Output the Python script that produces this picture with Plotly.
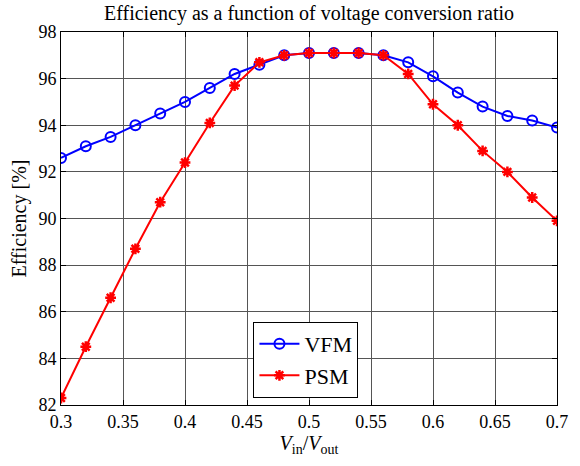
import plotly.graph_objects as go

ratio = [0.30, 0.32, 0.34, 0.36, 0.38, 0.40, 0.42, 0.44, 0.46, 0.48, 0.50,
         0.52, 0.54, 0.56, 0.58, 0.60, 0.62, 0.64, 0.66, 0.68, 0.70]
vfm = [92.6, 93.1, 93.5, 94.0, 94.5, 95.0, 95.6, 96.2, 96.6, 97.0, 97.1,
       97.1, 97.1, 97.0, 96.7, 96.1, 95.4, 94.8, 94.4, 94.2, 93.9]
psm = [82.3, 84.5, 86.6, 88.7, 90.7, 92.4, 94.1, 95.7, 96.7, 97.0, 97.1,
       97.1, 97.1, 97.0, 96.2, 94.9, 94.0, 92.9, 92.0, 90.9, 89.9]
x_ticks = [0.3, 0.35, 0.4, 0.45, 0.5, 0.55, 0.6, 0.65, 0.7]
x_tick_labels = ["0.3", "0.35", "0.4", "0.45", "0.5", "0.55", "0.6", "0.65", "0.7"]
y_ticks = [82, 84, 86, 88, 90, 92, 94, 96, 98]

FONT = "Liberation Serif"

fig = go.Figure()
fig.add_trace(go.Scatter(
    x=ratio, y=vfm, name="VFM", mode="lines+markers",
    line=dict(color="#0000ff", width=2),
    marker=dict(symbol="circle-open", size=10, color="#0000ff",
                line=dict(color="#0000ff", width=2)),
))
fig.add_trace(go.Scatter(
    x=ratio, y=psm, name="PSM", mode="lines+markers",
    line=dict(color="#ff0000", width=2),
    marker=dict(symbol="asterisk-open", size=9, color="#ff0000",
                line=dict(color="#ff0000", width=2.5)),
))

axis_common = dict(
    showline=True, linecolor="black", linewidth=1, mirror="ticks",
    ticks="inside", ticklen=5, tickcolor="black",
    showgrid=True, gridcolor="#555555", gridwidth=1,
    zeroline=False,
    tickfont=dict(family=FONT, size=18, color="black"),
)

fig.update_xaxes(range=[0.3, 0.7], tickvals=x_ticks, ticktext=x_tick_labels,
                 title=dict(text="<i>V</i><sub>in</sub>/<i>V</i><sub>out</sub>",
                            font=dict(family=FONT, size=20, color="black"),
                            standoff=4),
                 **axis_common)
fig.update_yaxes(range=[82, 98], tickvals=y_ticks,
                 title=dict(text="Efficiency [%]",
                            font=dict(family=FONT, size=20, color="black"),
                            standoff=6),
                 **axis_common)

fig.update_layout(
    width=580, height=466,
    margin=dict(l=61, r=13, t=32, b=61),
    paper_bgcolor="white", plot_bgcolor="white",
    title=dict(text="Efficiency as a function of voltage conversion ratio",
               x=0.5, xref="paper", xanchor="center", y=0.972, yanchor="middle",
               font=dict(family=FONT, size=20, color="black")),
    legend=dict(x=0.388, y=0.019, xanchor="left", yanchor="bottom",
                bgcolor="white", bordercolor="black", borderwidth=1,
                font=dict(family=FONT, size=22, color="black"),
                itemwidth=40, tracegroupgap=0),
    showlegend=True,
)

fig.write_html("out.html")
